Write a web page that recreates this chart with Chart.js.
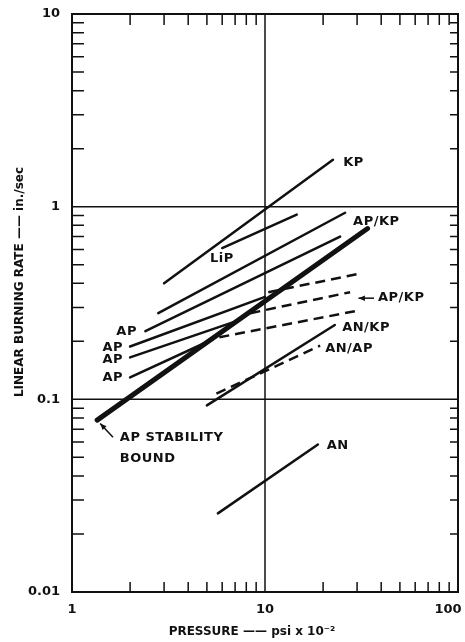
<!DOCTYPE html>
<html>
<head>
<meta charset="utf-8">
<script src="https://cdn.jsdelivr.net/npm/chart.js@4.4.1/dist/chart.umd.min.js"></script>
<style>
  html, body { margin: 0; padding: 0; background: #fff; }
  #chart { display: block; }
</style>
</head>
<body>
<canvas id="chart" width="465" height="642"></canvas>
<script>
// values (pressure in psi x 10^-2, rate in in./sec)
const kpPressure = [3.0, 22.5];
const kpRate = [0.40, 1.75];
const lipPressure = [6.0, 14.6];
const lipRate = [0.61, 0.91];
const apkpPressure = [2.8, 26];
const apkpRate = [0.28, 0.93];
const ap1Pressure = [2.4, 24.5];
const ap1Rate = [0.226, 0.70];
const ap2Pressure = [2.0, 10];
const ap2Rate = [0.188, 0.34];
const ap3Pressure = [2.0, 6.8];
const ap3Rate = [0.165, 0.251];
const ap4Pressure = [2.0, 5.2];
const ap4Rate = [0.130, 0.202];
const boundPressure = [1.35, 34];
const boundRate = [0.078, 0.77];
const apkpDash1Pressure = [10.4, 30];
const apkpDash1Rate = [0.36, 0.446];
const apkpDash2Pressure = [8.4, 27.6];
const apkpDash2Rate = [0.28, 0.36];
const apkpDash3Pressure = [5.8, 31];
const apkpDash3Rate = [0.21, 0.29];
const ankpPressure = [5.0, 23];
const ankpRate = [0.093, 0.243];
const anapPressure = [5.6, 19.3];
const anapRate = [0.107, 0.19];
const anPressure = [5.7, 18.8];
const anRate = [0.0256, 0.0583];

const xTicks = [1, 10, 100];
const xTickLabels = ['1', '10', '100'];
const yTicks = [10, 1, 0.1, 0.01];
const yTickLabels = ['10', '1', '0.1', '0.01'];

const INK = '#111';
const FONT = 'DejaVu Sans';

function pts(p, r) {
    return p.map((v, i) => ({ x: v, y: r[i] }));
}

function line(p, r, extra) {
    return Object.assign({
        data: pts(p, r),
        showLine: true,
        borderColor: INK,
        borderWidth: 2.5,
        pointRadius: 0,
        tension: 0,
        borderCapStyle: 'round'
    }, extra || {});
}

// Рамка, сетка, засечки и подписи
const paperPlugin = {
    id: 'paper',
    beforeDatasetsDraw(chart) {
        const { ctx, chartArea: a, scales: { x, y } } = chart;
        ctx.save();
        ctx.strokeStyle = INK;
        // major grid
        ctx.lineWidth = 1.5;
        ctx.beginPath();
        const gx = x.getPixelForValue(10);
        ctx.moveTo(gx, a.top); ctx.lineTo(gx, a.bottom);
        [1, 0.1].forEach(v => {
            const gy = y.getPixelForValue(v);
            ctx.moveTo(a.left, gy); ctx.lineTo(a.right, gy);
        });
        ctx.stroke();
        // minor ticks, inward on every side
        ctx.beginPath();
        [1, 10].forEach(d => {
            for (let k = 2; k <= 9; k++) {
                const px = x.getPixelForValue(d * k);
                ctx.moveTo(px, a.bottom); ctx.lineTo(px, a.bottom - 10);
                ctx.moveTo(px, a.top); ctx.lineTo(px, a.top + 11);
            }
        });
        [0.01, 0.1, 1].forEach(d => {
            for (let k = 2; k <= 9; k++) {
                const py = y.getPixelForValue(d * k);
                ctx.moveTo(a.left, py); ctx.lineTo(a.left + 12, py);
                ctx.moveTo(a.right, py); ctx.lineTo(a.right - 8, py);
            }
        });
        ctx.stroke();
        // frame
        ctx.lineWidth = 2;
        ctx.strokeRect(a.left, a.top, a.right - a.left, a.bottom - a.top);

        // tick labels
        ctx.fillStyle = INK;
        ctx.font = 'bold 13px "' + FONT + '"';
        ctx.textAlign = 'center';
        ctx.textBaseline = 'middle';
        xTicks.forEach((v, i) => {
            let px = x.getPixelForValue(v);
            if (i === xTicks.length - 1) px -= 10;
            ctx.fillText(xTickLabels[i], px, a.bottom + 18);
        });
        ctx.textAlign = 'right';
        yTicks.forEach((v, i) => {
            ctx.fillText(yTickLabels[i], a.left - 12, y.getPixelForValue(v));
        });
        ctx.restore();
    },
    afterDatasetsDraw(chart) {
        const { ctx, chartArea: a, scales: { x, y } } = chart;
        const P = (px, ry) => [x.getPixelForValue(px), y.getPixelForValue(ry)];
        ctx.save();
        ctx.fillStyle = INK;
        ctx.strokeStyle = INK;
        ctx.font = 'bold 13px "' + FONT + '"';
        ctx.letterSpacing = '0.5px';
        ctx.textBaseline = 'middle';

        const text = (s, px, ry, align) => {
            const [cx, cy] = P(px, ry);
            ctx.textAlign = align || 'left';
            ctx.fillText(s, cx, cy);
        };
        text('KP', 25.4, 1.70);
        text('AP/KP', 28.6, 0.84);
        text('LiP', 5.19, 0.54);
        text('AP', 2.17, 0.225, 'right');
        text('AP', 1.84, 0.186, 'right');
        text('AP', 1.84, 0.160, 'right');
        text('AP', 1.84, 0.130, 'right');
        text('AP/KP', 38.5, 0.339);
        text('AN/KP', 25.1, 0.237);
        text('AN/AP', 20.5, 0.184);
        text('AN', 20.9, 0.0577);
        text('AP STABILITY', 1.77, 0.0636);
        text('BOUND', 1.77, 0.0494);

        const arrow = (x1, y1, x2, y2) => {
            const [ax, ay] = P(x1, y1);
            const [bx, by] = P(x2, y2);
            ctx.lineWidth = 1.5;
            ctx.beginPath();
            ctx.moveTo(ax, ay); ctx.lineTo(bx, by);
            ctx.stroke();
            const ang = Math.atan2(by - ay, bx - ax);
            ctx.beginPath();
            ctx.moveTo(bx, by);
            ctx.lineTo(bx - 7 * Math.cos(ang - 0.4), by - 7 * Math.sin(ang - 0.4));
            ctx.lineTo(bx - 7 * Math.cos(ang + 0.4), by - 7 * Math.sin(ang + 0.4));
            ctx.closePath();
            ctx.fill();
        };
        arrow(1.63, 0.0636, 1.40, 0.075);
        arrow(36.7, 0.335, 30.5, 0.335);

        // axis titles
        ctx.font = 'bold 12px "' + FONT + '"';
        ctx.letterSpacing = '0px';
        ctx.textAlign = 'center';
        ctx.fillText('PRESSURE —— psi x 10⁻²', 252, a.bottom + 40);
        ctx.translate(20, 282);
        ctx.rotate(-Math.PI / 2);
        ctx.fillText('LINEAR BURNING RATE —— in./sec', 0, 0);
        ctx.restore();
    }
};

new Chart(document.getElementById('chart').getContext('2d'), {
    type: 'scatter',
    data: {
        datasets: [
            line(kpPressure, kpRate),
            line(lipPressure, lipRate),
            line(apkpPressure, apkpRate),
            line(ap1Pressure, ap1Rate),
            line(ap2Pressure, ap2Rate),
            line(ap3Pressure, ap3Rate),
            line(ap4Pressure, ap4Rate),
            line(boundPressure, boundRate, { borderWidth: 5 }),
            line(apkpDash1Pressure, apkpDash1Rate, { borderDash: [10, 6], borderCapStyle: 'butt' }),
            line(apkpDash2Pressure, apkpDash2Rate, { borderDash: [10, 6], borderCapStyle: 'butt' }),
            line(apkpDash3Pressure, apkpDash3Rate, { borderDash: [10, 6], borderCapStyle: 'butt' }),
            line(ankpPressure, ankpRate),
            line(anapPressure, anapRate, { borderDash: [10, 6], borderCapStyle: 'butt' }),
            line(anPressure, anRate)
        ]
    },
    options: {
        responsive: false,
        animation: false,
        devicePixelRatio: 1,
        layout: { padding: { top: 14, right: 7, bottom: 0, left: 0 } },
        plugins: { legend: { display: false }, tooltip: { enabled: false } },
        scales: {
            x: {
                type: 'logarithmic',
                min: 1,
                max: 100,
                grid: { display: false, drawTicks: false },
                border: { display: false },
                ticks: { display: false },
                afterFit: s => { s.height = 50; }
            },
            y: {
                type: 'logarithmic',
                min: 0.01,
                max: 10,
                grid: { display: false, drawTicks: false },
                border: { display: false },
                ticks: { display: false },
                afterFit: s => { s.width = 72; }
            }
        }
    },
    plugins: [paperPlugin]
});
</script>
</body>
</html>
